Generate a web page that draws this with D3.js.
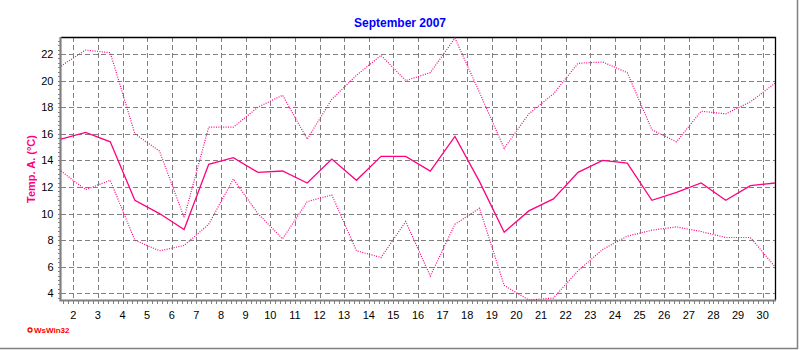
<!DOCTYPE html>
<html>
<head>
<meta charset="utf-8">
<script src="https://cdn.jsdelivr.net/npm/d3@7"></script>
<style>
  body { margin: 0; background: #fff; }
  #wrapper svg { display: block; font-family: "Liberation Sans", Arial, sans-serif; }
  .grid line { stroke: #808080; stroke-dasharray: 5,3; shape-rendering: crispEdges; }
  .tick-mark { stroke: #808080; shape-rendering: crispEdges; }
  .tick-label { font-size: 11px; fill: #000; }
  .temp-line { fill: none; stroke: #ff0080; }
  .dotted { stroke-width: 1.2; stroke-dasharray: 1,1.4; }
  .solid { stroke-width: 1.3; }
</style>
</head>
<body>
<div id="wrapper"></div>
<script>
// daily values, September 2007 (deg C)
const days = d3.range(1, 31);
const tempMax = [21.1, 22.3, 22.1, 16.0, 14.7, 9.7, 16.5, 16.5, 18.0, 18.9,
  15.6, 18.6, 20.4, 21.9, 20.0, 20.6, 23.2, 19.1, 14.9, 17.5,
  19.0, 21.3, 21.4, 20.6, 16.3, 15.4, 17.7, 17.5, 18.4, 19.8];
const tempMean = [15.6, 16.1, 15.4, 11.0, 10.0, 8.8, 13.7, 14.2, 13.1, 13.2,
  12.3, 14.1, 12.5, 14.3, 14.3, 13.2, 15.8, 12.4, 8.6, 10.2,
  11.1, 13.1, 14.0, 13.8, 11.0, 11.6, 12.3, 11.0, 12.1, 12.3];
const tempMin = [13.2, 11.8, 12.5, 8.0, 7.2, 7.6, 9.2, 12.6, 10.0, 8.1,
  10.9, 11.4, 7.2, 6.7, 9.4, 5.3, 9.2, 10.4, 4.6, 3.5,
  3.65, 5.7, 7.3, 8.3, 8.75, 9.0, 8.65, 8.2, 8.2, 6.0];
const xTickDays = d3.range(2, 31);
const yTickValues = [4, 6, 8, 10, 12, 14, 16, 18, 20, 22];

function drawChart() {
  const dimensions = {
    width: 800,
    height: 350,
    left: 61,
    right: 775,
    top: 37,
    bottom: 300,
  };

  const svg = d3.select("#wrapper")
    .append("svg")
    .attr("width", dimensions.width)
    .attr("height", dimensions.height);

  // outer frame (right and bottom edge)
  svg.append("line").attr("x1", 797.5).attr("x2", 797.5).attr("y1", 0).attr("y2", 349)
    .attr("stroke", "#808080").attr("stroke-width", 1.5);
  svg.append("line").attr("x1", 0).attr("x2", 798).attr("y1", 348.5).attr("y2", 348.5)
    .attr("stroke", "#808080").attr("stroke-width", 1.5);

  // scales: each day's value is plotted at noon
  const xScale = d3.scaleLinear()
    .domain([1.5, 30.5])
    .range([dimensions.left, dimensions.right]);
  const yScale = d3.scaleLinear()
    .domain([3.5, 23.28])
    .range([dimensions.bottom, dimensions.top]);

  // title
  svg.append("text")
    .attr("x", 400)
    .attr("y", 26.5)
    .attr("text-anchor", "middle")
    .style("font-size", "12px")
    .style("font-weight", "bold")
    .attr("fill", "#0000ff")
    .text("September 2007");

  // grid
  const grid = svg.append("g").attr("class", "grid");
  grid.selectAll(".hgrid")
    .data(yTickValues)
    .join("line")
    .attr("x1", dimensions.left)
    .attr("x2", dimensions.right)
    .attr("y1", (d) => Math.round(yScale(d)) + 0.5)
    .attr("y2", (d) => Math.round(yScale(d)) + 0.5);
  grid.selectAll(".vgrid")
    .data(xTickDays)
    .join("line")
    .attr("x1", (d) => Math.round(xScale(d)) + 0.5)
    .attr("x2", (d) => Math.round(xScale(d)) + 0.5)
    .attr("y1", dimensions.top)
    .attr("y2", dimensions.bottom);

  // minor ticks
  const yMinor = d3.range(-1, 60).map((i) => 4 + i / 3)
    .filter((v) => v >= 3.5 && v <= 23.28);
  svg.selectAll(".ytick")
    .data(yMinor)
    .join("line")
    .attr("class", "tick-mark")
    .attr("x1", dimensions.left - 3)
    .attr("x2", dimensions.left)
    .attr("y1", (d) => Math.round(yScale(d)) + 0.5)
    .attr("y2", (d) => Math.round(yScale(d)) + 0.5);

  const xMinor = d3.range(0, 150).map((i) => 1.6 + i * 0.2)
    .filter((v) => v <= 30.5);
  svg.selectAll(".xtick")
    .data(xMinor)
    .join("line")
    .attr("class", "tick-mark")
    .attr("x1", (d) => Math.round(xScale(d)) + 0.5)
    .attr("x2", (d) => Math.round(xScale(d)) + 0.5)
    .attr("y1", dimensions.bottom)
    .attr("y2", dimensions.bottom + 4);

  // frame: black top/right, thick gray left/bottom
  svg.append("path")
    .attr("d", `M${dimensions.left},${dimensions.top + 0.5}H${dimensions.right + 0.5}V${dimensions.bottom}`)
    .attr("fill", "none")
    .attr("stroke", "#000")
    .attr("stroke-width", 1.3);
  svg.append("path")
    .attr("d", `M${dimensions.left - 0.5},${dimensions.top}V${dimensions.bottom + 0.5}H${dimensions.right + 1}`)
    .attr("fill", "none")
    .attr("stroke", "#808080")
    .attr("stroke-width", 2.2);

  // tick labels
  svg.selectAll(".ylabel")
    .data(yTickValues)
    .join("text")
    .attr("class", "tick-label")
    .attr("x", 53.5)
    .attr("y", (d) => yScale(d) + 4)
    .attr("text-anchor", "end")
    .text((d) => d);
  svg.selectAll(".xlabel")
    .data(xTickDays)
    .join("text")
    .attr("class", "tick-label")
    .attr("x", (d) => xScale(d))
    .attr("y", 318.5)
    .attr("text-anchor", "middle")
    .text((d) => d);

  // y axis title
  svg.append("text")
    .attr("transform", `translate(35, 169) rotate(-90)`)
    .attr("text-anchor", "middle")
    .style("font-size", "11px")
    .style("font-weight", "bold")
    .attr("fill", "#ff0080")
    .text("Temp. A. (°C)");

  // lines
  const lineGenerator = (values) => d3.line()
    .x((d, i) => xScale(days[i] + 0.5))
    .y((d) => yScale(d))(values);

  const plot = svg.append("g");
  plot.append("path").attr("class", "temp-line dotted").attr("d", lineGenerator(tempMax));
  plot.append("path").attr("class", "temp-line dotted").attr("d", lineGenerator(tempMin));
  plot.append("path").attr("class", "temp-line solid").attr("d", lineGenerator(tempMean));

  // WsWin32 logo
  const logo = svg.append("g").attr("transform", "translate(30, 330)");
  logo.append("circle").attr("r", 2).attr("fill", "none").attr("stroke", "#ff0000").attr("stroke-width", 1.3);
  logo.append("text")
    .attr("x", 4)
    .attr("y", 3)
    .style("font-size", "8px")
    .style("font-weight", "bold")
    .attr("fill", "#ff0000")
    .text("WsWin32");
}
drawChart();
</script>
</body>
</html>
